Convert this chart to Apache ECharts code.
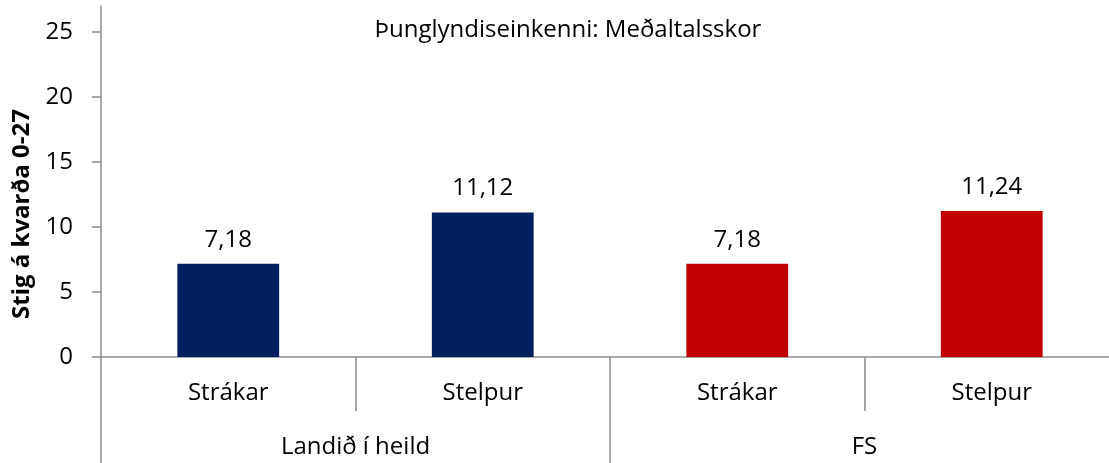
<!DOCTYPE html>
<html lang="is">
<head>
<meta charset="UTF-8">
<title>Þunglyndiseinkenni</title>
<style>
  html, body { margin: 0; padding: 0; background: #fff; }
  #main { width: 1109px; height: 463px; }
</style>
<script src="https://cdn.jsdelivr.net/npm/echarts@6/dist/echarts.min.js"></script>
</head>
<body>
<div id="main"></div>
<script>
// gögn
var kyn = ['Strákar', 'Stelpur', 'Strákar', 'Stelpur'];
var hopar = ['Landið í heild', 'FS'];
var gildi = [7.18, 11.12, 7.18, 11.24];
var litir = ['#002060', '#002060', '#C00000', '#C00000'];

var font = 'Open Sans';
var axisGrey = '#8c8c8c';

var chart = echarts.init(document.getElementById('main'));

var option = {
  animation: false,
  textStyle: { fontFamily: font },
  title: {
    text: 'Þunglyndiseinkenni: Meðaltalsskor',
    left: 563,
    top: 13,
    textAlign: 'center',
    textStyle: { fontFamily: font, fontSize: 24, fontWeight: 'normal', color: '#000' }
  },
  grid: { left: 101, top: 6, width: 1018, bottom: 106, containLabel: false, outerBoundsMode: 'none' },
  graphic: [{
    type: 'text',
    x: 22,
    y: 214,
    rotation: Math.PI / 2,
    style: {
      text: 'Stig á kvarða 0-27',
      font: 'bold 24px "Open Sans"',
      fill: '#000',
      textAlign: 'center',
      textVerticalAlign: 'middle'
    }
  }],
  xAxis: [{
    type: 'category',
    data: kyn,
    position: 'bottom',
    axisLine: { lineStyle: { color: axisGrey, width: 1.5 } },
    axisTick: { show: true, length: 54, interval: 0, lineStyle: { color: axisGrey, width: 1.5 } },
    axisLabel: { interval: 0, margin: 24, fontSize: 24, color: '#000', fontFamily: font }
  }, {
    type: 'category',
    data: hopar,
    position: 'bottom',
    axisLine: { show: false },
    axisTick: { show: true, length: 106, interval: 0, lineStyle: { color: axisGrey, width: 1.5 } },
    axisLabel: { interval: 0, margin: 78, fontSize: 24, color: '#000', fontFamily: font }
  }],
  yAxis: {
    type: 'value',
    min: 0,
    max: 27,
    interval: 5,
    splitLine: { show: false },
    axisLine: { show: true, lineStyle: { color: axisGrey, width: 1.5 } },
    axisTick: { show: true, length: 9, lineStyle: { color: axisGrey, width: 1.5 } },
    axisLabel: { fontSize: 24, color: '#000', margin: 28, fontFamily: font,
      showMaxLabel: false }
  },
  series: [{
    type: 'bar',
    xAxisIndex: 0,
    barWidth: '40%',
    data: gildi.map(function (v, i) {
      return { value: v, itemStyle: { color: litir[i] } };
    }),
    label: {
      show: true,
      position: 'top',
      distance: 12,
      fontSize: 24,
      color: '#000',
      fontFamily: font,
      formatter: function (p) { return p.value.toFixed(2).replace('.', ','); }
    }
  }]
};

chart.setOption(option);
</script>
</body>
</html>
